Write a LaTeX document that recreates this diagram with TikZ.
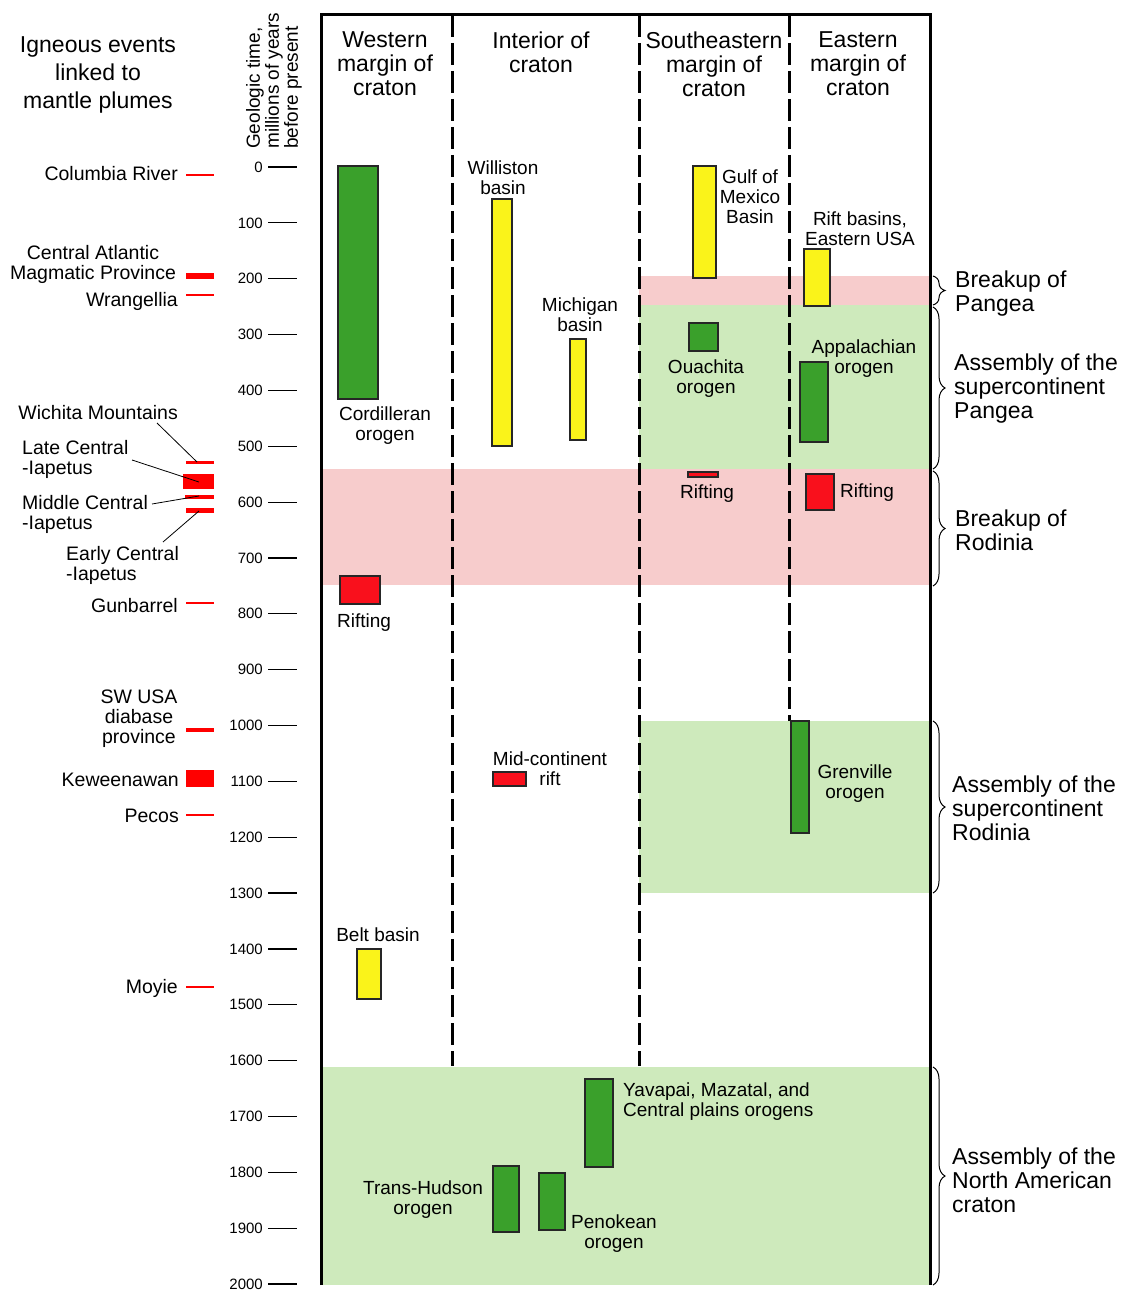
\documentclass[tikz,border=0pt]{standalone}
\usepackage{fontspec}
\setmainfont{Liberation Sans}
\usetikzlibrary{decorations.pathreplacing}
\definecolor{myGreen}{RGB}{58,160,43}
\definecolor{myYellow}{RGB}{250,243,26}
\definecolor{myRed}{RGB}{249,16,28}
\definecolor{myPink}{RGB}{247,204,204}
\definecolor{myLightGreen}{RGB}{206,234,188}
\definecolor{myPlume}{RGB}{255,0,0}

\begin{document}
\begin{tikzpicture}[%
    x=1pt, y=-1pt,
    every node/.style={inner sep=0pt, align=center},
    header/.style={font=\fontsize{23}{24}\selectfont, yshift=-1pt},
    event/.style={font=\fontsize{19}{20}\selectfont, yshift=-2pt},
    plume/.style={font=\fontsize{19.5}{20}\selectfont, yshift=-2pt},
    period/.style={font=\fontsize{23}{24}\selectfont, align=left, anchor=west, yshift=-1.5pt},
    orogen/.style={draw=black!85, line width=1.1pt, fill=myGreen},
    basin/.style={draw=black!85, line width=1.1pt, fill=myYellow},
    rift/.style={draw=black!85, line width=1.1pt, fill=myRed},
    divider/.style={line width=3pt, dash pattern=on 22pt off 6pt},
    era brace/.style={decorate, decoration={brace, amplitude=12pt}, line width=1pt},
]
\useasboundingbox (0,0) rectangle (1128,1292);

% place coloured bands
\fill[myPink] (639,276) rectangle (930,305);
\fill[myLightGreen] (639,305) rectangle (930,469);
\fill[myPink] (321,469) rectangle (930,585);
\fill[myLightGreen] (639,721) rectangle (930,893);
\fill[myLightGreen] (321,1067) rectangle (930,1285);

% draw column dividers
\draw [divider] (452,15) -- (452,1066);
\draw [divider] (639,15) -- (639,1066);
\draw [divider] (789,15) -- (789,721);

% draw frame
\draw [line width=3pt] (321,1285) -- (321,15) -- (930,15) -- (930,1285);

% place column headers
\node[header] (west) at (385,63) {Western\\margin of\\craton};
\node[header] (interior) at (541,51) {Interior of\\craton};
\node[header] (southeast) at (714,63) {Southeastern\\margin of\\craton};
\node[header] (east) at (858,63) {Eastern\\margin of\\craton};

% place time axis
\node[rotate=90, anchor=west, align=left, font=\fontsize{19}{19}\selectfont] (timeaxis) at (274,149) {Geologic time,\\millions of years\\before present};
\foreach \k in {0,...,20} {
    \pgfmathsetmacro{\yy}{167+55.85*\k}
    \pgfmathtruncatemacro{\age}{100*\k}
    \draw [line width=1.2pt] (268,\yy) -- (297,\yy);
    \node[anchor=east, font=\fontsize{15}{15}\selectfont] (age\k) at (263,\yy) {\age};
}

% place plume events
\node[header, font=\fontsize{23}{28}\selectfont, yshift=-2pt] (plumes) at (98,72) {Igneous events\\linked to\\mantle plumes};
\node[plume, anchor=east] (columbia) at (178,172) {Columbia River};
\node[plume] (camp) at (93,262) {Central Atlantic\\Magmatic Province};
\node[plume, anchor=east] (wrangellia) at (178,299) {Wrangellia};
\node[plume, anchor=east] (wichita) at (178,411) {Wichita Mountains};
\node[plume, anchor=west, align=left] (lateiap) at (22,457) {Late Central\\-Iapetus};
\node[plume, anchor=west, align=left] (midiap) at (22,512) {Middle Central\\-Iapetus};
\node[plume, anchor=west, align=left] (earlyiap) at (66,563) {Early Central\\-Iapetus};
\node[plume, anchor=east] (gunbarrel) at (178,604) {Gunbarrel};
\node[plume] (swusa) at (139,717) {SW USA\\diabase\\province};
\node[plume, anchor=east] (keweenawan) at (179,778) {Keweenawan};
\node[plume, anchor=east] (pecos) at (179,814) {Pecos};
\node[plume, anchor=east] (moyie) at (178,986) {Moyie};

\fill[myPlume] (186,174) rectangle (214,176);
\fill[myPlume] (186,273) rectangle (214,279);
\fill[myPlume] (186,294) rectangle (214,296);
\fill[myPlume] (186,461) rectangle (214,464);
\fill[myPlume] (183,474) rectangle (214,489);
\fill[myPlume] (185,495) rectangle (214,499);
\fill[myPlume] (186,508) rectangle (214,513);
\fill[myPlume] (186,602) rectangle (214,604);
\fill[myPlume] (186,728) rectangle (214,732);
\fill[myPlume] (186,770) rectangle (214,787);
\fill[myPlume] (186,814) rectangle (214,816);
\fill[myPlume] (186,986) rectangle (214,988);

% draw leader lines
\coordinate (wichitaFrom) at (157,423);
\coordinate (wichitaTo) at (197,462);
\coordinate (lateFrom) at (132,460);
\coordinate (lateTo) at (199,482);
\coordinate (midFrom) at (152,504);
\coordinate (midTo) at (199,496);
\coordinate (earlyFrom) at (163,542);
\coordinate (earlyTo) at (199,511);
\draw [line width=0.8pt] (wichitaFrom) -- (wichitaTo);
\draw [line width=0.8pt] (lateFrom) -- (lateTo);
\draw [line width=0.8pt] (midFrom) -- (midTo);
\draw [line width=0.8pt] (earlyFrom) -- (earlyTo);

% place tectonic events
\draw [orogen] (338,166) rectangle (378,399);
\node[event] (cordilleran) at (385,424) {Cordilleran\\orogen};
\draw [basin] (492,199) rectangle (512,446);
\node[event] (williston) at (503,176) {Williston\\basin};
\draw [basin] (570,339) rectangle (586,440);
\node[event] (michigan) at (580,313) {Michigan\\basin};
\draw [basin] (693,166) rectangle (716,278);
\node[event] (gulf) at (750,195) {Gulf of\\Mexico\\Basin};
\draw [basin] (804,249) rectangle (830,306);
\node[event] (riftbasins) at (860,227) {Rift basins,\\Eastern USA};
\draw [orogen] (689,323) rectangle (718,351);
\node[event] (ouachita) at (706,377) {Ouachita\\orogen};
\draw [orogen] (800,362) rectangle (828,442);
\node[event] (appalachian) at (864,357) {Appalachian\\orogen};
\draw [rift] (688,472) rectangle (718,477);
\node[event] (riftSE) at (707,492) {Rifting};
\draw [rift] (806,474) rectangle (834,510);
\node[event, anchor=west] (riftE) at (840,491) {Rifting};
\draw [rift] (340,576) rectangle (380,604);
\node[event] (riftW) at (364,621) {Rifting};
\draw [rift] (493,772) rectangle (526,786);
\node[event] (midcontinent) at (550,767) {Mid-continent\\rift};
\draw [orogen] (791,721) rectangle (809,833);
\node[event] (grenville) at (855,782) {Grenville\\orogen};
\draw [basin] (357,949) rectangle (381,999);
\node[event] (belt) at (378,933) {Belt basin};
\draw [orogen] (585,1079) rectangle (613,1167);
\node[event, anchor=west, align=left] (yavapai) at (623,1100) {Yavapai, Mazatal, and\\Central plains orogens};
\draw [orogen] (493,1166) rectangle (519,1232);
\node[event] (transhudson) at (423,1198) {Trans-Hudson\\orogen};
\draw [orogen] (539,1173) rectangle (565,1230);
\node[event] (penokean) at (614,1232) {Penokean\\orogen};

% draw braces
\draw [era brace] (933,276) -- (933,305);
\draw [era brace] (933,307) -- (933,469);
\draw [era brace] (933,471) -- (933,586);
\draw [era brace] (933,721) -- (933,893);
\draw [era brace] (933,1067) -- (933,1285);
\node[period] (pangeaBreak) at (955,292) {Breakup of\\Pangea};
\node[period] (pangeaAssembly) at (954,387) {Assembly of the\\supercontinent\\Pangea};
\node[period] (rodiniaBreak) at (955,529) {Breakup of\\Rodinia};
\node[period] (rodiniaAssembly) at (952,807) {Assembly of the\\supercontinent\\Rodinia};
\node[period] (cratonAssembly) at (952,1179) {Assembly of the\\North American\\craton};

\end{tikzpicture}
\end{document}
